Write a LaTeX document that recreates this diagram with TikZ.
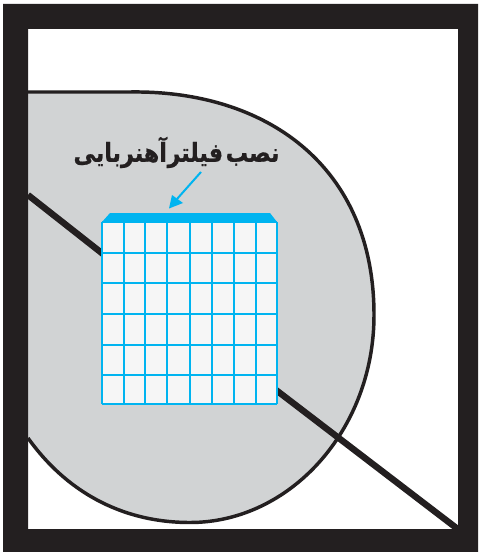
\documentclass[tikz,border=0pt]{standalone}
\usepackage{fontspec}
\TeXXeTstate=1
\newfontfamily\arabicfont[Script=Arabic,FakeBold=0.8]{DejaVu Sans Bold}
\definecolor{framek}{RGB}{35,31,32}
\definecolor{blobgray}{RGB}{209,211,212}
\definecolor{gridblue}{RGB}{0,180,240}
\definecolor{cellfill}{RGB}{246,246,246}
\tikzset{
  px/.style={x=0.75pt,y=-0.75pt},
  pipeline/.style={draw=framek,line width=4.8pt,line cap=butt},
  gridline/.style={draw=gridblue,line width=1.5pt},
}
\begin{document}
\begin{tikzpicture}[px]
\useasboundingbox (0,0) rectangle (478,552);
\fill[white] (0,0) rectangle (478,552);
% blob
\path[fill=blobgray,draw=framek,line width=2.6pt]
  (28,92) -- (130,92) .. controls (265,90) and (374,165) .. (374,315)
  .. controls (374,430) and (290,522.5) .. (190,522.5)
  .. controls (120,522.5) and (65,490) .. (28,438);
% pipe
\coordinate (pa) at (28,195);
\coordinate (pb) at (103,254);
\coordinate (pc) at (276,390);
\coordinate (pd) at (459,530);
\draw[pipeline] (pa) -- (pb);
\draw[pipeline] (pc) -- (pd);
% frame
\fill[framek,even odd rule] (3,4) rectangle (478,552) (28,29) rectangle (458,529);
% filter
\fill[cellfill] (102,222) rectangle (277,404);
\foreach \x in {102.4,123.8,145.4,167.4,189.7,212,234,256,277} \draw[gridline] (\x,222) -- (\x,404);
\foreach \y in {222,253.2,283.3,314.4,344.7,375,403.7} \draw[gridline] (102,\y) -- (277,\y);
\fill[gridblue] (102,222) -- (110,213) -- (270,213) -- (277,222) -- cycle;
% label
\node[inner sep=0pt,text=framek] (lbl) at (176.5,152.5) {\scalebox{0.98}[1.15]{\arabicfont\fontsize{17}{20}\selectfont\beginR نصب\kern2pt فیلتر\kern0.5pt آهنربایی\endR}};
\coordinate (tip) at (169,208.5);
\coordinate (tail) at (201,172);
\draw[draw=gridblue,line width=1.5pt] (tail) -- (177,199);
\fill[gridblue] (tip) -- (172,195) -- (183,203) -- cycle;
\end{tikzpicture}
\end{document}
